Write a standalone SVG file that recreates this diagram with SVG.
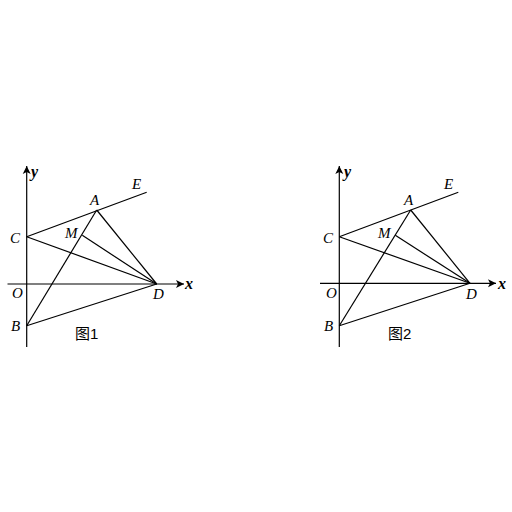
<svg xmlns="http://www.w3.org/2000/svg" width="512" height="512" viewBox="0 0 512 512">
<defs>
<marker id="arr" markerWidth="10" markerHeight="10" refX="8" refY="5" orient="auto" markerUnits="userSpaceOnUse">
<path d="M0,1 L8,5 L0,9 L2,5 Z" fill="#000"/>
</marker>
</defs>
<style>
.ln{stroke:#000;stroke-width:1.2;fill:none}
.ax{stroke:#000;stroke-width:1.2;fill:none}
.lb{font-family:"Liberation Serif",serif;font-style:italic;font-size:15px;fill:#000}
.axl{font-family:"Liberation Serif",serif;font-style:italic;font-weight:bold;font-size:16px;fill:#000}
.cap{font-family:"Liberation Sans","Noto Sans CJK SC",sans-serif;font-size:15px;fill:#000}
</style>
<rect width="512" height="512" fill="#fff"/>
<g id="fig1">
<g id="axes1">
<line class="ax" x1="26.7" y1="347" x2="26.7" y2="166" marker-end="url(#arr)"/>
<line class="ax" x1="7.5" y1="284" x2="184" y2="284" marker-end="url(#arr)"/>
</g>
<g id="connectors1">
<line class="ln" x1="26.7" y1="236.7" x2="146.7" y2="192.3"/>
<line class="ln" x1="26.7" y1="236.7" x2="156.7" y2="284"/>
<line class="ln" x1="96.7" y1="210" x2="156.7" y2="284"/>
<line class="ln" x1="82.3" y1="235.3" x2="156.7" y2="284"/>
<line class="ln" x1="96.7" y1="210" x2="26.7" y2="325.7"/>
<line class="ln" x1="26.7" y1="325.7" x2="156.7" y2="284"/>
</g>
<g id="labels1">
<text class="axl" x="31" y="177">y</text>
<text class="axl" x="185" y="289">x</text>
<text class="lb" x="132" y="189">E</text>
<text class="lb" x="90" y="205">A</text>
<text class="lb" x="10" y="243">C</text>
<text class="lb" x="65" y="238">M</text>
<text class="lb" x="12" y="298">O</text>
<text class="lb" x="153" y="299">D</text>
<text class="lb" x="11" y="331">B</text>
<text class="cap" x="75" y="339">图1</text>
</g>
</g>
<g id="fig2">
<g id="axes2">
<line class="ax" x1="339.3" y1="347" x2="339.3" y2="166" marker-end="url(#arr)"/>
<line class="ax" x1="320" y1="283.3" x2="496" y2="283.3" marker-end="url(#arr)"/>
</g>
<g id="connectors2">
<line class="ln" x1="339.3" y1="236.7" x2="458.3" y2="192.3"/>
<line class="ln" x1="339.3" y1="236.7" x2="470" y2="283.3"/>
<line class="ln" x1="410.7" y1="210" x2="470" y2="283.3"/>
<line class="ln" x1="395.3" y1="235.3" x2="470" y2="283.3"/>
<line class="ln" x1="410.7" y1="210" x2="339.3" y2="325.7"/>
<line class="ln" x1="339.3" y1="325.7" x2="470" y2="283.3"/>
</g>
<g id="labels2">
<text class="axl" x="344" y="177">y</text>
<text class="axl" x="498" y="289">x</text>
<text class="lb" x="444" y="189">E</text>
<text class="lb" x="404" y="205">A</text>
<text class="lb" x="323" y="243">C</text>
<text class="lb" x="378" y="238">M</text>
<text class="lb" x="326" y="298">O</text>
<text class="lb" x="466" y="299">D</text>
<text class="lb" x="324" y="331">B</text>
<text class="cap" x="388" y="339">图2</text>
</g>
</g>
</svg>
